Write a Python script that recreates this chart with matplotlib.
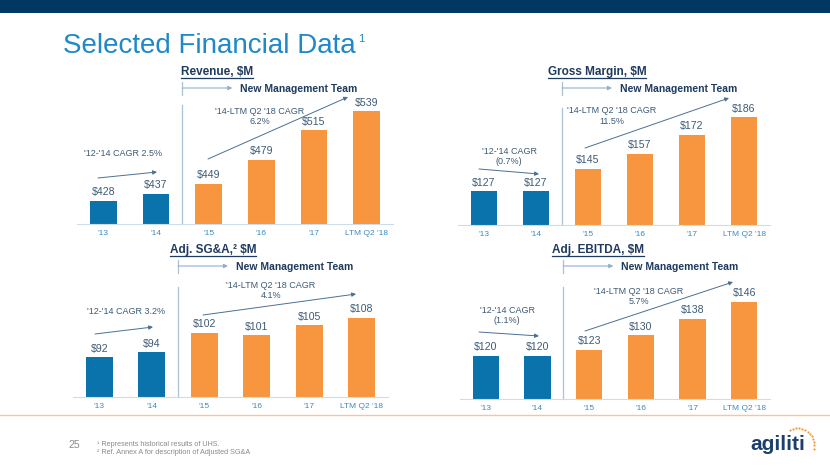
import numpy as np
import matplotlib
matplotlib.use("Agg")
import matplotlib.pyplot as plt

plt.rcParams['font.family'] = ['Liberation Sans', 'DejaVu Sans']

# data
years = ["'13", "'14", "'15", "'16", "'17", "LTM Q2 '18"]
revenue = [428, 437, 449, 479, 515, 539]
gross_margin = [127, 127, 145, 157, 172, 186]
adj_sga = [92, 94, 102, 101, 105, 108]
adj_ebitda = [120, 120, 123, 130, 138, 146]

titles = ["Revenue, $M", "Gross Margin, $M", "Adj. SG&A,\u00b2 $M", "Adj. EBITDA, $M"]
pre_cagr = ["'12-'14 CAGR 2.5%", "'12-'14 CAGR\n(0.7%)",
            "'12-'14 CAGR 3.2%", "'12-'14 CAGR\n(1.1%)"]
post_cagr = ["'14-LTM Q2 '18 CAGR\n6.2%", "'14-LTM Q2 '18 CAGR\n11.5%",
             "'14-LTM Q2 '18 CAGR\n4.1%", "'14-LTM Q2 '18 CAGR\n5.7%"]
series = [revenue, gross_margin, adj_sga, adj_ebitda]

# colours
NAVY = '#003763'
TITLE_BLUE = '#1f88c9'
DARK = '#1f3a5f'
BAR_BLUE = '#0a73ab'
BAR_ORANGE = '#f7963f'
LABEL = '#3d5a75'
TICK = '#3a8ac2'
LINE = '#8fb0c8'

W, H = 830, 467
fig = plt.figure(figsize=(W / 100, H / 100), dpi=100)

# full-figure overlay in pixel coords
ax0 = fig.add_axes([0, 0, 1, 1], zorder=0)
ax0.set_xlim(0, W)
ax0.set_ylim(H, 0)
ax0.axis('off')
ax0.patch.set_visible(False)

ax0.add_patch(plt.Rectangle((0, 0), W, 12.5, color=NAVY, lw=0))
ax0.axhline(415, color='#f9c49a', lw=1)

ax0.text(63, 46, "Selected Financial Data", fontsize=20, color=TITLE_BLUE,
         va='center', ha='left')
ax0.text(358, 39, "1", fontsize=8, color=TITLE_BLUE, va='center', ha='left')

# panel layout: left, right, baseline (px), y origin value, px per unit, title y
layout = [
    (77, 393, 224, 399.5, 0.81, 72),
    (458, 770, 225, 100.0, 1.254, 72),
    (73, 388, 397, 75.6, 2.44, 250),
    (460, 770, 399, 99.3, 2.08, 250),
]
div_top = [105, 108, 287, 287]
pre_pos = [((123, 154), (98, 178), (157, 172)),
           ((509, 156.5), (479, 169), (539, 174)),
           ((126, 312), (95, 334), (153, 327)),
           ((507, 315.5), (479, 332), (539, 336))]
post_pos = [((260, 116.5), (208, 159), (348, 97)),
            ((612, 116), (585, 148), (729, 98)),
            ((271, 290.5), (203, 315), (356, 294)),
            ((639, 296.5), (585, 331), (733, 282))]

arrow_kw = dict(arrowstyle='-|>', color='#4a7093', lw=0.7, mutation_scale=6,
                shrinkA=0, shrinkB=0)

title_texts = []
for i, (vals, (left, right, base, v0, scale, ty)) in enumerate(zip(series, layout)):
    top = base - 140
    ax = fig.add_axes([left / W, 1 - base / H, (right - left) / W, (base - top) / H],
                      zorder=1)
    ax.patch.set_visible(False)
    x = np.arange(len(vals))
    colors = [BAR_BLUE] * 2 + [BAR_ORANGE] * (len(vals) - 2)
    bars = ax.bar(x, vals, width=0.51, color=colors, bottom=0)
    ax.set_xlim(-0.5, len(vals) - 0.5)
    ax.set_ylim(v0, v0 + (base - top) / scale)
    for b, v in zip(bars, vals):
        ax.annotate(f"${v}", (b.get_x() + b.get_width() / 2, v),
                    xytext=(0, 2.5), textcoords='offset points',
                    ha='center', va='bottom', fontsize=7.6, color=LABEL)
    ax.set_xticks(x)
    ax.set_xticklabels(years, fontsize=6, color=TICK)
    ax.tick_params(axis='x', length=0, pad=4)
    ax.set_yticks([])
    for s in ['top', 'left', 'right']:
        ax.spines[s].set_visible(False)
    ax.spines['bottom'].set_color('#cddde9')
    ax.spines['bottom'].set_linewidth(0.8)

    unit = (right - left) / len(vals)
    dx = left + 2 * unit
    # divider and new management bracket
    ax0.plot([dx, dx], [div_top[i], base], color='#a9c2d5', lw=0.9)
    ax0.plot([dx, dx], [ty + 10, ty + 23], color='#a9c2d5', lw=0.9)
    ax0.annotate("", xy=(dx + 50, ty + 16), xytext=(dx, ty + 16),
                 arrowprops=dict(arrowstyle='-|>', color=LINE, lw=0.8,
                                 mutation_scale=6, shrinkA=0, shrinkB=0))
    ax0.text(dx + 58, ty + 17, "New Management Team", fontsize=7.5,
             fontweight='bold', color=DARK, va='center', ha='left')
    t = ax0.text(dx + 35, ty, titles[i], fontsize=8.5, fontweight='bold',
                 color=DARK, va='center', ha='center')
    title_texts.append(t)

    # CAGR annotations
    (tx, tyy), a0, a1 = pre_pos[i]
    ax0.text(tx, tyy, pre_cagr[i], fontsize=6.5, color=LABEL, ha='center',
             va='center', linespacing=1.25)
    ax0.annotate("", xy=a1, xytext=a0, arrowprops=arrow_kw)
    (tx, tyy), a0, a1 = post_pos[i]
    ax0.text(tx, tyy, post_cagr[i], fontsize=6.5, color=LABEL, ha='center',
             va='center', linespacing=1.25)
    ax0.annotate("", xy=a1, xytext=a0, arrowprops=arrow_kw)

# footer
ax0.text(74, 445, "25", fontsize=7.5, color='#8a8a8a', ha='center', va='center')
ax0.text(97, 444, "\u00b9 Represents historical results of UHS.", fontsize=5.2,
         color='#8a8a8a', ha='left', va='center')
ax0.text(97, 453, "\u00b2 Ref. Annex A for description of Adjusted SG&A",
         fontsize=5.2, color='#8a8a8a', ha='left', va='center')

# logo
ax0.text(750, 450, "agiliti", fontsize=15, fontweight='bold', color='#1c3f6e',
         ha='left', va='baseline')
ang = np.linspace(np.radians(245), np.radians(372), 13)
ax0.scatter(797 + 17 * np.cos(ang), 445 + 17 * np.sin(ang), s=2.5,
            color=BAR_ORANGE, lw=0)

# underline the panel titles
fig.canvas.draw()
inv = ax0.transData.inverted()
for t in title_texts:
    bb = t.get_window_extent()
    (x0, y0), (x1, y1) = inv.transform([(bb.x0, bb.y0), (bb.x1, bb.y1)])
    ax0.plot([x0, x1], [y0 - 0.5, y0 - 0.5], color=DARK, lw=0.9)

fig.savefig("out.png", dpi=100)
